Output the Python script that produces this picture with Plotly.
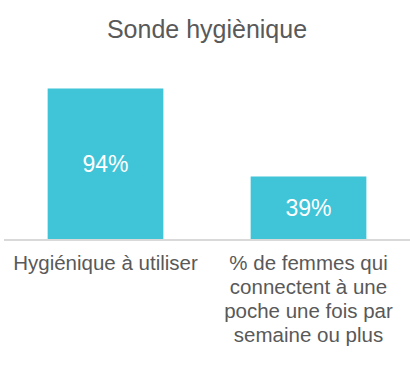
import plotly.graph_objects as go

category_lines = [["Hygiénique à utiliser"],
                  ["% de femmes qui", "connectent à une", "poche une fois par", "semaine ou plus"]]
values = [94, 39]
labels = ["94%", "39%"]

categories = ["<br>".join(l for l in lines) for lines in category_lines]
ticktext = ["<br>".join('<span style="font-size:20.5px">%s</span>' % l for l in lines)
            for lines in category_lines]

fig = go.Figure(go.Bar(
    x=categories, y=values, text=labels,
    textposition="inside", insidetextanchor="middle",
    textfont=dict(color="white", size=23, family="Liberation Sans, Arial"),
    marker=dict(color="#40C4D8", line=dict(width=0)),
    width=0.57, hoverinfo="skip",
))

fig.update_layout(
    width=410, height=367,
    margin=dict(l=4, r=0, t=79, b=127.5),
    paper_bgcolor="white", plot_bgcolor="white",
    font=dict(family="Liberation Sans, Arial", color="#595959"),
    title=dict(text="Sonde hygiènique", x=0.5, xanchor="center",
               xref="paper", y=1 - 29 / 367, yanchor="middle",
               font=dict(size=25, color="#595959")),
    showlegend=False,
    xaxis=dict(showline=True, linecolor="#D9D9D9", linewidth=2,
               showgrid=False, ticks="", tickfont=dict(size=18.5, color="#595959"),
               tickmode="array", tickvals=categories, ticktext=ticktext,
               ticklabelstandoff=7,
               automargin=False, range=[-0.5, 1.5]),
    yaxis=dict(visible=False, range=[0, 100], showgrid=False, zeroline=False),
)

fig.write_html("out.html", config={"displayModeBar": False},
               post_script="document.body.style.margin='0';document.body.style.overflow='hidden';")
